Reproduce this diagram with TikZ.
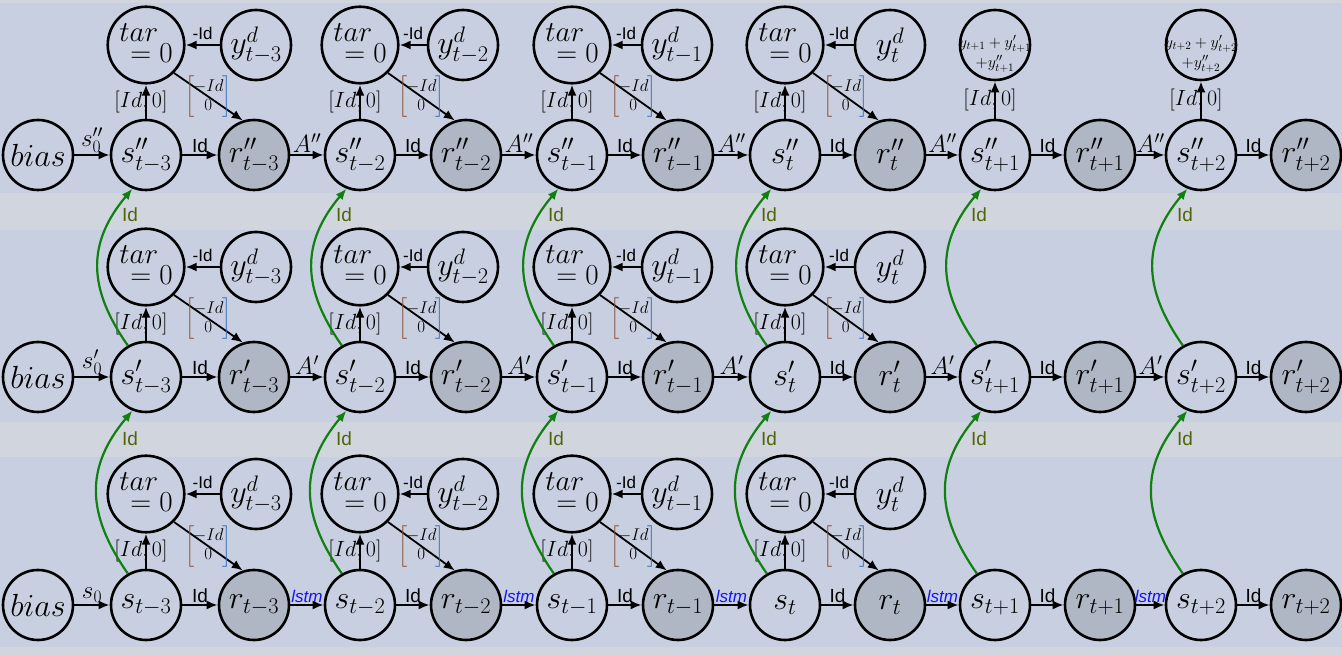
\RequirePackage{fix-cm}
\documentclass[tikz,border=0pt]{standalone}
\usepackage{amsmath}
\usepackage{fontspec}
\newfontfamily\arialfont{Liberation Sans}
\usetikzlibrary{arrows.meta}
\definecolor{bandcol}{RGB}{200,207,224}
\definecolor{gapcol}{RGB}{209,213,221}
\definecolor{rfill}{RGB}{176,183,196}
\definecolor{arcgreen}{RGB}{16,128,16}
\definecolor{labgreen}{RGB}{80,100,10}
\definecolor{lstmblue}{RGB}{20,20,250}
\definecolor{brkbrown}{RGB}{140,80,50}
\definecolor{brkblue}{RGB}{60,110,190}
\newcommand\matbody{\begin{matrix}-Id\\0\end{matrix}}
\newcommand\mymat{$\textcolor{brkbrown}{\left[\vphantom{\matbody}\right.}\!\matbody\!\textcolor{brkblue}{\left.\vphantom{\matbody}\right]}$}
\newcommand\tartext{\begin{tabular}{@{}l@{}}$tar$\\[-13pt]\hspace{11pt}$=0$\end{tabular}}
\tikzset{
  base/.style={circle, draw=black, line width=2.6pt, minimum size=70pt, inner sep=0pt, font=\fontsize{32}{36}\selectfont},
  snode/.style={base, fill=bandcol},
  rnode/.style={base, fill=rfill},
  tnode/.style={base, fill=bandcol, font=\fontsize{29}{34}\selectfont},
  harr/.style={line width=2.6pt, -{Latex[length=11pt,width=9pt]}},
  varr/.style={line width=2.4pt, -{Latex[length=11pt,width=9pt]}},
  darr/.style={line width=1.8pt, -{Latex[length=11pt,width=9pt]}},
  garr/.style={line width=2.2pt, draw=arcgreen, -{Latex[length=11pt,width=9pt,fill=arcgreen]}},
  idlab/.style={font=\arialfont\fontsize{19}{20}\selectfont, inner sep=1pt},
  smlab/.style={font=\arialfont\fontsize{17}{18}\selectfont, inner sep=4pt},
  mlab/.style={font=\fontsize{25}{27}\selectfont, inner sep=1pt},
  blab/.style={font=\fontsize{22}{24}\selectfont, inner sep=0pt},
  matlab/.style={font=\fontsize{17}{19}\selectfont, inner sep=0pt},
  glab/.style={font=\arialfont\fontsize{19}{20}\selectfont, text=labgreen, inner sep=0pt},
  sumtxt/.style={font=\fontsize{16}{20}\selectfont, align=center, inner sep=0pt},
}
% #1 row id, #2 s y, #3 tar y, #4 prime, #5 transition label
\newcommand\myrow[5]{%
  \node[snode] (bias#1) at (38,#2) {$bias$};
  \foreach \c/\x/\rx/\sub in {1/146/254/t-3,2/360/466/t-2,3/572/678/t-1,4/785/890/t,5/995/1100/t+1,6/1201/1306/t+2}{%
    \node[snode] (s#1\c) at (\x,#2) {$s#4_{\sub}$};
    \node[rnode] (r#1\c) at (\rx,#2) {$r#4_{\sub}$};
    \draw[harr] (s#1\c) -- node[idlab,above]{Id} (r#1\c);
  }
  \draw[harr] (bias#1) -- node[mlab,above]{$s#4_0$} (s#11);
  \foreach \c [evaluate=\c as \n using int(\c+1)] in {1,...,5}{%
    \draw[harr] (r#1\c) -- node[mlab,above]{#5} (s#1\n);
  }
  \foreach \c/\x/\yx/\sub in {1/146/256/t-3,2/360/463/t-2,3/572/677/t-1,4/785/890/t}{%
    \node[tnode] (tar#1\c) at (\x,#3) {\tartext};
    \node[snode] (yd#1\c) at (\yx,#3) {$y^d_{\sub}$};
    \draw[harr] (yd#1\c) -- node[smlab,above]{-Id} (tar#1\c);
    \draw[varr] (s#1\c) -- node[blab,xshift=-5pt]{$[Id,0]$} (tar#1\c);
    \draw[darr] (tar#1\c.-45) -- node[matlab]{\mymat} (r#1\c.108);
  }
}
\begin{document}
\begin{tikzpicture}[x=1pt,y=1pt]
\useasboundingbox (0,0) rectangle (1342,656);
\fill[gapcol] (0,0) rectangle (1342,656);
\fill[bandcol] (0,463) rectangle (1342,653);
\fill[bandcol] (0,234) rectangle (1342,426);
\fill[bandcol] (0,9) rectangle (1342,199);
\myrow{a}{501}{611}{''}{$A''$}
\myrow{b}{279}{389}{'}{$A'$}
\myrow{c}{51}{162}{}{\textcolor{lstmblue}{\arialfont\itshape\fontsize{17}{18}\selectfont lstm}}
\foreach \c/\x/\sub in {5/995/t+1,6/1201/t+2}{%
  \node[snode] (ysum\c) at (\x,611) {};
  \node[sumtxt] (ysumtxt\c) at ([yshift=-9pt]ysum\c.center) {$y_{\sub}+y'_{\sub}$\\$+y''_{\sub}$};
  \draw[varr] (sa\c) -- node[blab,xshift=-5pt]{$[Id,0]$} (ysum\c);
}
\foreach \c in {1,...,6}{%
  \draw[garr] (sc\c.120) to[out=125,in=230,looseness=1.15] (sb\c.248);
  \draw[garr] (sb\c.120) to[out=125,in=230,looseness=1.15] (sa\c.248);
  \node[glab] (glb\c) at ([xshift=-16pt,yshift=-62pt]sb\c.center) {Id};
  \node[glab] (gla\c) at ([xshift=-16pt,yshift=-60pt]sa\c.center) {Id};
}
\end{tikzpicture}
\end{document}
